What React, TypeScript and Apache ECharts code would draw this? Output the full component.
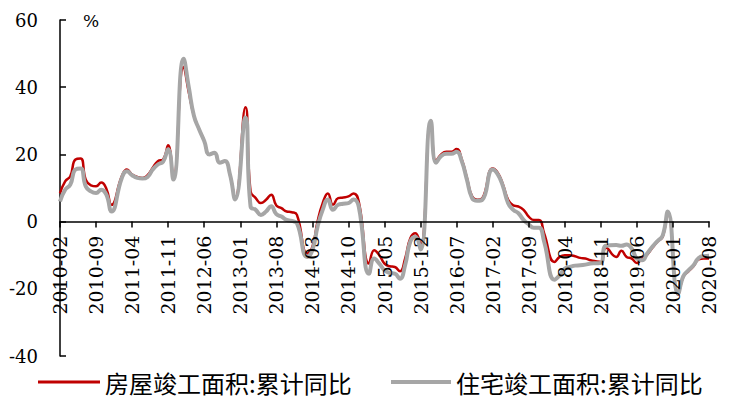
import React, { useEffect, useRef } from "react";
import * as echarts from "echarts";

// Monthly categories 2010-02 .. 2020-08
const startYear = 2010;
const startMonth = 2;
const monthCount = 127;
const categories: string[] = [];
for (let k = 0; k < monthCount; k++) {
  const m0 = startMonth - 1 + k;
  const y = startYear + Math.floor(m0 / 12);
  const m = (m0 % 12) + 1;
  categories.push(`${y}-${m < 10 ? "0" + m : m}`);
}

const seriesNames = ["房屋竣工面积:累计同比", "住宅竣工面积:累计同比"];

// 房屋竣工面积:累计同比 (%) — January not reported (null)
const houseCompletion: (number | null)[] = [
  8.4, 12, 13.5, 18.5, 18.8, 12.5, 10.8, 10.5, 11.6, 9.8, 5,
  null, 13.5, 15.5, 14, 13.3, 13, 13.8, 16, 18, 18.5, 22.7, 13,
  null, 46, 38.5, 31.5, 27.5, 24, 20, 20.5, 17.5, 18, 14, 7,
  null, 34, 9, 7, 5.5, 6.5, 8, 4.8, 4, 3, 2.8, 2,
  null, -9.5, -7.5, 0, 5.5, 8.4, 5, 7, 7.2, 7.5, 8.4, 6,
  null, -12.5, -8.5, -10, -12.5, -13.3, -13.5, -14.8, -11, -5, -3.5, -6.9,
  null, 30, 18, 20, 20.8, 20.8, 21.6, 18.5, 13, 7.5, 6.5, 7,
  null, 15.8, 14.5, 11, 6.5, 4.8, 4.5, 3.5, 1.5, 0.5, 0.5, -3.5,
  null, -12, -10.5, -10, -10, -10.3, -10.8, -11, -11.5, -11.8, -12, -7.8,
  null, -10.5, -8.7, -10.5, -11, -12.3, -11, -9.8, -7.8, -6, -4.5, 2.6,
  null, -21.8, -16.5, -14.8, -13.3, -11.2, -11, -11,
];

// 住宅竣工面积:累计同比 (%)
const residentialCompletion: (number | null)[] = [
  6, 9.5, 11, 15.5, 15.8, 10.5, 9, 8.5, 9.5, 8, 3,
  null, 13, 15, 13.8, 13, 12.8, 13.3, 15.5, 17, 17.8, 21.5, 12.5,
  null, 48.5, 40, 31.5, 27.5, 24, 20, 20.5, 17.5, 18, 14, 6.6,
  null, 31, 4.5, 3.5, 2, 3, 4.6, 2.2, 1.5, 0.5, 0.2, -0.5,
  null, -10.5, -8.5, -1.5, 3.5, 6.6, 3.5, 5, 5.3, 5.5, 6.6, 4.5,
  null, -15.5, -11, -12.5, -14.5, -15.3, -15.5, -17, -13, -6, -4.5, -8.3,
  null, 30, 17.5, 19.5, 20.2, 20.2, 20.8, 18, 12.5, 7, 6.2, 6.5,
  null, 15.5, 14, 10.5, 5.5, 3.5, 2.5, 0.5, -0.8, -1.8, -1.8, -6,
  null, -17.3, -16, -14, -13.5, -13.1, -13, -12.8, -12.5, -12.4, -12.3, -7.2,
  null, -7, -7.2, -6.8, -8, -11, -11.5, -9.5, -7.5, -5.8, -4.2, 3,
  null, -21.5, -16.3, -14.5, -13, -10.8, -10.3, -10.2,
];

const yMin = -40;
const yMax = 60;
const yStep = 20;

const gridTop = 20;
const gridBottom = 54;
const chartH = 410;

const serif = "DejaVu Serif";
const cjk = "Noto Sans CJK SC";

export default function App() {
  const ref = useRef<HTMLDivElement>(null);
  useEffect(() => {
    document.body.style.margin = "0";
    if (!ref.current) return;
    const chart = echarts.init(ref.current, undefined, { renderer: "svg" });
    const plotH = chartH - gridTop - gridBottom;
    const zeroOffset = -((0 - yMin) / (yMax - yMin)) * plotH;
    chart.setOption({
      animation: false,
      backgroundColor: "#fff",
      grid: {
        left: 60,
        right: 25,
        top: gridTop,
        bottom: gridBottom,
        containLabel: false,
        outerBoundsMode: "none",
      },
      legend: [
        {
          data: [seriesNames[0]],
          left: 33,
          top: 365,
          icon: "rect",
          itemWidth: 62,
          itemHeight: 3,
          itemGap: 6,
          textStyle: { fontFamily: cjk, fontSize: 24, color: "#000" },
        },
        {
          data: [seriesNames[1]],
          left: 386,
          top: 365,
          icon: "rect",
          itemWidth: 60,
          itemHeight: 4,
          itemGap: 6,
          textStyle: { fontFamily: cjk, fontSize: 24, color: "#000" },
        },
      ],
      graphic: [
        {
          type: "text",
          left: 83,
          top: 12,
          style: { text: "%", fontFamily: serif, fontSize: 17, fill: "#000" },
        },
      ],
      xAxis: {
        type: "category",
        data: categories,
        boundaryGap: false,
        position: "bottom",
        offset: zeroOffset,
        z: 5,
        axisLine: { onZero: false, lineStyle: { color: "#000", width: 1.5 } },
        axisTick: { interval: 6, length: 6, lineStyle: { color: "#000", width: 1.5 } },
        axisLabel: {
          interval: 6,
          rotate: 90,
          margin: 14,
          fontFamily: serif,
          fontSize: 19,
          color: "#000",
        },
      },
      yAxis: {
        type: "value",
        min: yMin,
        max: yMax,
        interval: yStep,
        splitLine: { show: false },
        axisLine: { show: true, lineStyle: { color: "#000", width: 1.5 } },
        axisTick: { show: true, inside: true, length: 6, lineStyle: { color: "#000", width: 1.5 } },
        axisLabel: { margin: 22, fontFamily: serif, fontSize: 18, color: "#000" },
      },
      series: [
        {
          name: seriesNames[0],
          type: "line",
          data: houseCompletion,
          smooth: true,
          connectNulls: true,
          showSymbol: false,
          symbol: "none",
          lineStyle: { color: "#C00000", width: 2.5 },
          itemStyle: { color: "#C00000" },
        },
        {
          name: seriesNames[1],
          type: "line",
          data: residentialCompletion,
          smooth: true,
          connectNulls: true,
          showSymbol: false,
          symbol: "none",
          lineStyle: { color: "#A6A6A6", width: 4 },
          itemStyle: { color: "#A6A6A6" },
        },
      ],
    });
    return () => chart.dispose();
  }, []);
  return (
    <div
      ref={ref}
      style={{ width: 734, height: 410, position: "absolute", left: 0, top: 0 }}
    />
  );
}
